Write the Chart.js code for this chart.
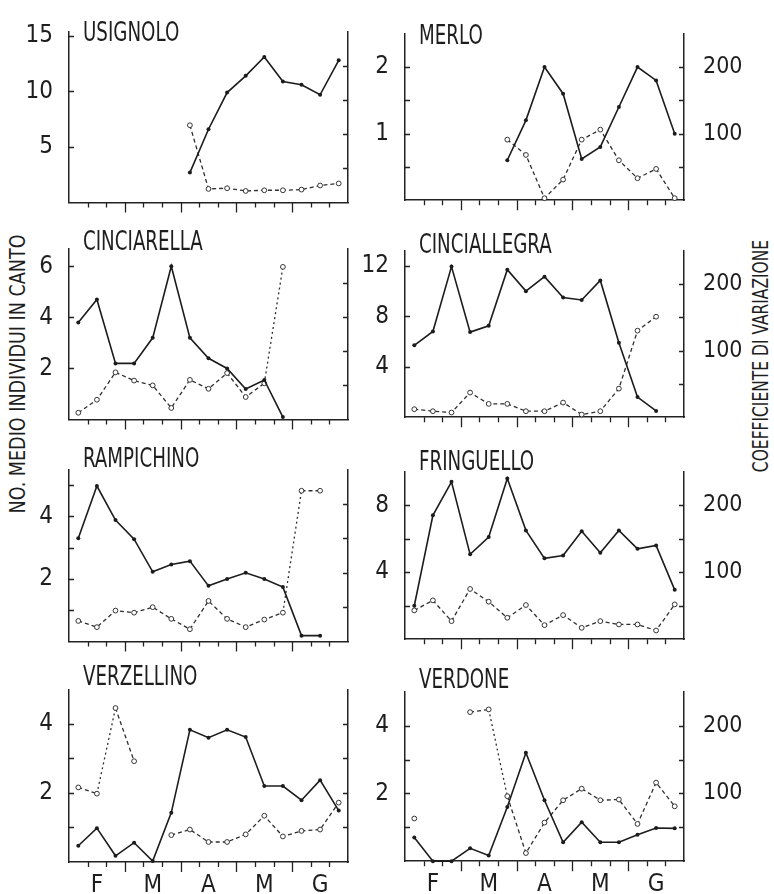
<!DOCTYPE html>
<html>
<head>
<meta charset="utf-8">
<script src="https://cdn.jsdelivr.net/npm/chart.js@4.4.1/dist/chart.umd.min.js"></script>
<style>
  html, body { margin: 0; padding: 0; background: #fff; }
  body { width: 774px; height: 894px; position: relative; overflow: hidden; color: #1e1e1e;
         font-family: 'Liberation Sans Narrow', 'DejaVu Sans Condensed', 'Liberation Sans', sans-serif; }
  .pannello { position: absolute; }
  .titolo-asse { position: absolute; width: 320px; height: 24px; line-height: 24px; text-align: center;
                 font-size: 21px; white-space: nowrap; transform-origin: 50% 50%; }
</style>
</head>
<body>
<div class="titolo-asse" id="tSx">NO. MEDIO INDIVIDUI IN CANTO</div>
<div class="titolo-asse" id="tDx">COEFFICIENTE DI VARIAZIONE</div>
<script>
const FONT = "'Liberation Sans Narrow', 'DejaVu Sans Condensed', 'Liberation Sans', sans-serif";

// mesi (feb - giu) divisi in decadi
const mesi = ['F', 'M', 'A', 'M', 'G'];
const decadi = ['F1','F2','F3','M1','M2','M3','A1','A2','A3','Mg1','Mg2','Mg3','G1','G2','G3'];

// n. medio individui in canto (asse sx) e coefficiente di variazione (asse dx)
const usignoloMedia = [null, null, null, null, null, null, 2.7, 6.6, 9.9, 11.4, 13.1, 10.9, 10.6, 9.7, 12.8];
const usignoloCV    = [null, null, null, null, null, null, 113, 20, 21, 17, 18, 18, 19, 25, 28];

const merloMedia = [null, null, null, null, null, 0.6, 1.2, 2.0, 1.6, 0.62, 0.8, 1.4, 2.0, 1.8, 1.0];
const merloCV    = [null, null, null, null, null, 91, 68, 3, 31, 91, 106, 60, 33, 47, 3];

const cinciarellaMedia = [3.8, 4.7, 2.2, 2.2, 3.2, 6.0, 3.2, 2.4, 2.0, 1.2, 1.55, 0.1, null, null, null];
const cinciarellaCV    = [10, 29, 69, 57, 50, 17, 58, 45, 68, 33, 53, 223, null, null, null];

const cinciallegraMedia = [5.7, 6.8, 11.95, 6.75, 7.25, 11.7, 10.0, 11.15, 9.5, 9.3, 10.85, 5.9, 1.6, 0.5, null];
const cinciallegraCV    = [12, 9, 7, 37, 20, 20, 9, 9, 22, 4, 9, 43, 130, 151, null];

const rampichinoMedia = [3.3, 4.97, 3.88, 3.27, 2.23, 2.46, 2.57, 1.78, 2.0, 2.2, 2.0, 1.74, 0.19, 0.19, null];
const rampichinoCV    = [30, 21, 45, 42, 50, 33, 18, 59, 33, 21, 32, 42, 219, 219, null];

const fringuelloMedia = [2.0, 7.4, 9.4, 5.07, 6.1, 9.6, 6.5, 4.83, 5.0, 6.45, 5.17, 6.5, 5.4, 5.6, 2.95];
const fringuelloCV    = [43, 58, 27, 75, 56, 32, 51, 21, 36, 17, 27, 22, 22, 13, 52];

const verzellinoMedia = [0.47, 0.98, 0.18, 0.56, 0.03, 1.43, 3.83, 3.6, 3.83, 3.62, 2.2, 2.2, 1.79, 2.37, 1.49];
const verzellinoCV    = [108, 99, 223, 146, null, 39, 47, 29, 29, 40, 67, 37, 45, 47, 86];

const verdoneMedia = [0.7, 0, 0, 0.38, 0.17, 1.6, 3.2, 1.8, 0.56, 1.15, 0.56, 0.56, 0.78, 0.98, 0.97];
const verdoneCV    = [63, null, null, 220, 224, 96, 12, 57, 90, 107, 90, 91, 55, 116, 81];

const pannelli = [
  { nome: 'USIGNOLO',     media: usignoloMedia,     cv: usignoloCV,     max: 15.4, passo: 5,   etich: 5 },
  { nome: 'MERLO',        media: merloMedia,        cv: merloCV,        max: 2.5,  passo: 0.5, etich: 1 },
  { nome: 'CINCIARELLA',  media: cinciarellaMedia,  cv: cinciarellaCV,  max: 6.7,  passo: 2,   etich: 2 },
  { nome: 'CINCIALLEGRA', media: cinciallegraMedia, cv: cinciallegraCV, max: 13.2, passo: 4,   etich: 4 },
  { nome: 'RAMPICHINO',   media: rampichinoMedia,   cv: rampichinoCV,   max: 5.5,  passo: 1,   etich: 2 },
  { nome: 'FRINGUELLO',   media: fringuelloMedia,   cv: fringuelloCV,   max: 10,   passo: 2,   etich: 4 },
  { nome: 'VERZELLINO',   media: verzellinoMedia,   cv: verzellinoCV,   max: 5,    passo: 1,   etich: 2 },
  { nome: 'VERDONE',      media: verdoneMedia,      cv: verdoneCV,      max: 5,    passo: 1,   etich: 2 }
];

// impaginazione: area dati di ogni riga (alto, basso) e posizione del nome
const righe = [[24, 205], [241, 422], [462, 644], [682, 862]];
const baseTitolo = [10, 2, -2, -4];

// titoli degli assi grandi, ruotati
function piazzaTitolo(id, cx, cy, sx) {
  const el = document.getElementById(id);
  el.style.left = (cx - 160) + 'px';
  el.style.top = (cy - 12) + 'px';
  el.style.transform = 'rotate(-90deg) scaleX(' + sx + ')';
}
piazzaTitolo('tSx', 18, 374, 0.93);
piazzaTitolo('tDx', 761, 356, 0.82);

const titoloSpecie = {
  id: 'titoloSpecie',
  afterDraw(chart, args, opts) {
    const { ctx, chartArea } = chart;
    ctx.save();
    ctx.translate(chartArea.left + 14, chartArea.top + opts.base);
    ctx.scale(0.78, 1);
    ctx.font = '26px ' + FONT;
    ctx.fillStyle = '#1e1e1e';
    ctx.textBaseline = 'alphabetic';
    ctx.fillText(opts.testo, 0, 0);
    ctx.restore();
  }
};

// tacche: verso l'interno sugli assi y, verso il basso sull'asse x
const marcheAssi = {
  id: 'marcheAssi',
  afterDraw(chart) {
    const { ctx, chartArea: a, scales } = chart;
    ctx.save();
    ctx.strokeStyle = '#222';
    ctx.lineWidth = 1.3;
    ctx.beginPath();
    scales.y.ticks.forEach(t => {
      if (t.value <= 0 || t.value >= scales.y.max) return;
      const py = Math.round(scales.y.getPixelForValue(t.value)) + 0.5;
      ctx.moveTo(a.left, py); ctx.lineTo(a.left + 5, py);
    });
    scales.y2.ticks.forEach(t => {
      if (t.value <= 0 || t.value >= scales.y2.max) return;
      const py = Math.round(scales.y2.getPixelForValue(t.value)) + 0.5;
      ctx.moveTo(a.right, py); ctx.lineTo(a.right - 5, py);
    });
    for (let k = 1; k < decadi.length; k++) {
      const px = Math.round(scales.x.getPixelForValue(k)) + 0.5;
      ctx.moveTo(px, a.bottom); ctx.lineTo(px, a.bottom + (k % 3 === 0 ? 10 : 5));
    }
    ctx.stroke();
    ctx.restore();
  }
};

const punti = serie => serie.map((v, k) => ({ x: k + 0.5, y: v }));

pannelli.forEach((p, i) => {
  const col = i % 2, riga = Math.floor(i / 2);
  const [alto, basso] = righe[riga];
  const left = col === 0 ? 0 : 356;
  const width = col === 0 ? 376 : 418;
  const top = alto - 23;
  const height = riga === 3 ? 894 - top : basso + 28 - top;
  const larghSx = col === 0 ? 69 : 49;
  const larghDx = col === 0 ? 28 : 90;

  const div = document.createElement('div');
  div.className = 'pannello';
  div.style.left = left + 'px';
  div.style.top = top + 'px';
  div.style.width = width + 'px';
  div.style.height = height + 'px';
  const canvas = document.createElement('canvas');
  div.appendChild(canvas);
  document.body.appendChild(div);

  new Chart(canvas, {
    type: 'line',
    data: {
      datasets: [{
        label: 'N. medio individui in canto',
        data: punti(p.media),
        yAxisID: 'y',
        borderColor: '#1c1c1c',
        borderWidth: 1.6,
        pointRadius: 2,
        pointBackgroundColor: '#1c1c1c',
        pointBorderWidth: 0,
        clip: false
      }, {
        label: 'Coefficiente di variazione',
        data: punti(p.cv),
        yAxisID: 'y2',
        borderColor: '#2e2e2e',
        borderWidth: 1.3,
        borderDash: [4, 3],
        // i tratti molto ripidi sono punteggiati più fini
        segment: {
          borderDash: c => Math.abs(c.p1.parsed.y - c.p0.parsed.y) > 120 ? [2, 3] : undefined
        },
        pointRadius: 2.4,
        pointBackgroundColor: '#fff',
        pointBorderColor: '#333',
        pointBorderWidth: 1,
        clip: false
      }]
    },
    options: {
      responsive: true,
      maintainAspectRatio: false,
      animation: false,
      layout: { padding: { top: 23, left: 0, right: 0, bottom: 0 } },
      plugins: {
        legend: { display: false },
        tooltip: { enabled: false },
        titoloSpecie: { testo: p.nome, base: baseTitolo[riga] }
      },
      scales: {
        x: {
          type: 'linear', min: 0, max: decadi.length,
          grid: { display: false, drawTicks: false },
          border: { color: '#222', width: 1.5 },
          afterBuildTicks: s => { s.ticks = mesi.map((m, j) => ({ value: j * 3 + 1.5 })); },
          ticks: {
            display: riga === 3, autoSkip: false, maxRotation: 0, padding: 9,
            color: '#1e1e1e', font: { family: FONT, size: 24 },
            callback: (v, j) => mesi[j]
          },
          afterFit: s => { s.height = height - (basso - top); }
        },
        y: {
          position: 'left', min: 0, max: p.max,
          grid: { display: false, drawTicks: false },
          border: { color: '#222', width: 1.5 },
          ticks: {
            stepSize: p.passo, includeBounds: false, autoSkip: false, padding: 16,
            color: '#1e1e1e', font: { family: FONT, size: 24 },
            callback: v => (v > 0 && Math.abs(v / p.etich - Math.round(v / p.etich)) < 1e-6) ? String(v) : ''
          },
          afterFit: s => { s.width = larghSx; }
        },
        y2: {
          position: 'right', min: 0, max: 250,
          grid: { display: false, drawTicks: false },
          border: { color: '#222', width: 1.5 },
          ticks: {
            stepSize: 50, includeBounds: false, autoSkip: false, padding: 19,
            display: col === 1,
            color: '#1e1e1e', font: { family: FONT, size: 23 },
            callback: v => (v > 0 && v % 100 === 0) ? String(v) : ''
          },
          afterFit: s => { s.width = larghDx; }
        }
      }
    },
    plugins: [titoloSpecie, marcheAssi]
  });
});
</script>
</body>
</html>
